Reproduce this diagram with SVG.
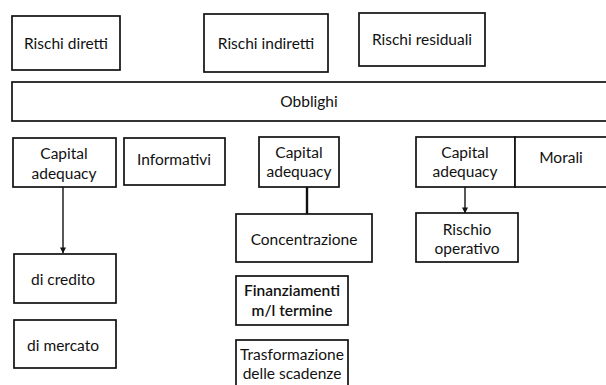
<svg xmlns="http://www.w3.org/2000/svg" width="606" height="385" viewBox="0 0 606 385">
  <defs>
    <marker id="arrow" viewBox="0 0 8 8" refX="7.5" refY="4" markerWidth="6" markerHeight="6" orient="auto" markerUnits="userSpaceOnUse">
      <path d="M0,0 L8,4 L0,8 z" fill="#111"/>
    </marker>
    <style>
      .box { fill: #fff; stroke: #111; stroke-width: 1.7; }
      .lbl { font-family: Lato, "Open Sans", "Liberation Sans", sans-serif; font-size: 15.5px; fill: #111; text-anchor: middle; }
      .bold { font-weight: 600; }
      .link { stroke: #111; stroke-width: 1.4; fill: none; }
      .thick { stroke-width: 2.4; }
    </style>
  </defs>
  <rect width="606" height="385" fill="#fff"/>

  <g id="connectors">
    <line class="link" x1="63" y1="187" x2="63" y2="253" marker-end="url(#arrow)"/>
    <line class="link thick" x1="307" y1="187" x2="307" y2="214"/>
    <line class="link" x1="465" y1="187" x2="465" y2="213" marker-end="url(#arrow)"/>
  </g>

  <g id="rischi-diretti">
    <rect class="box" x="12" y="16" width="108" height="54"/>
    <text class="lbl" x="66" y="49">Rischi diretti</text>
  </g>
  <g id="rischi-indiretti">
    <rect class="box" x="204" y="14" width="124" height="58"/>
    <text class="lbl" x="266" y="49">Rischi indiretti</text>
  </g>
  <g id="rischi-residuali">
    <rect class="box" x="359" y="13" width="126" height="53"/>
    <text class="lbl" x="422" y="45">Rischi residuali</text>
  </g>

  <g id="obblighi">
    <rect class="box" x="12" y="82" width="610" height="39"/>
    <text class="lbl" x="309" y="107">Obblighi</text>
  </g>

  <g id="capital-adequacy-1">
    <rect class="box" x="13" y="138" width="103" height="49"/>
    <text class="lbl" x="64" y="159">Capital</text>
    <text class="lbl" x="64" y="179">adequacy</text>
  </g>
  <g id="informativi">
    <rect class="box" x="124" y="138" width="101" height="47"/>
    <text class="lbl" x="174" y="165">Informativi</text>
  </g>
  <g id="capital-adequacy-2">
    <rect class="box" x="259" y="137" width="80" height="50"/>
    <text class="lbl" x="299" y="158">Capital</text>
    <text class="lbl" x="299" y="177">adequacy</text>
  </g>
  <g id="capital-adequacy-3">
    <rect class="box" x="416" y="137" width="99" height="50"/>
    <text class="lbl" x="465" y="158">Capital</text>
    <text class="lbl" x="465" y="177">adequacy</text>
  </g>
  <g id="morali">
    <rect class="box" x="515" y="137" width="100" height="50"/>
    <text class="lbl" x="561" y="163">Morali</text>
  </g>

  <g id="di-credito">
    <rect class="box" x="14" y="254" width="102" height="49"/>
    <text class="lbl" x="63" y="285">di credito</text>
  </g>
  <g id="di-mercato">
    <rect class="box" x="14" y="320" width="102" height="48"/>
    <text class="lbl" x="63" y="351">di mercato</text>
  </g>

  <g id="concentrazione">
    <rect class="box" x="236" y="214" width="136" height="48"/>
    <text class="lbl" x="304" y="245">Concentrazione</text>
  </g>
  <g id="finanziamenti">
    <rect class="box" x="236" y="276" width="112" height="49"/>
    <text class="lbl bold" x="292" y="296">Finanziamenti</text>
    <text class="lbl bold" x="292" y="316">m/l termine</text>
  </g>
  <g id="trasformazione">
    <rect class="box" x="236" y="340" width="112" height="50"/>
    <text class="lbl" x="292" y="360">Trasformazione</text>
    <text class="lbl" x="292" y="379">delle scadenze</text>
  </g>

  <g id="rischio-operativo">
    <rect class="box" x="416" y="213" width="102" height="49"/>
    <text class="lbl" x="467" y="235">Rischio</text>
    <text class="lbl" x="467" y="254">operativo</text>
  </g>
</svg>
